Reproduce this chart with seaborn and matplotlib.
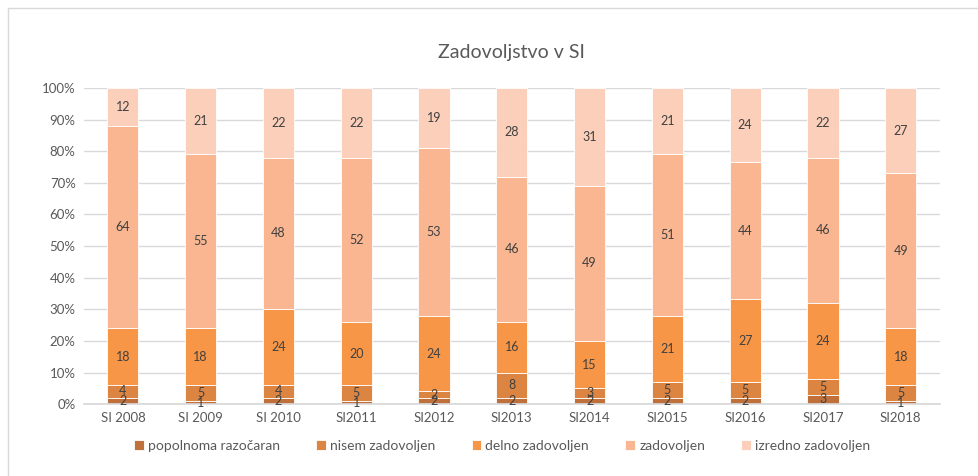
import matplotlib.pyplot as plt
import numpy as np
import pandas as pd
import seaborn as sns
from matplotlib.patches import Rectangle

sns.set_theme(style="white")
plt.rcParams["font.family"] = ["Lato", "DejaVu Sans"]

# === DATA === #
years = ["SI 2008", "SI 2009", "SI 2010", "SI2011", "SI2012", "SI2013",
         "SI2014", "SI2015", "SI2016", "SI2017", "SI2018"]
popolnoma = [2, 1, 2, 1, 2, 2, 2, 2, 2, 3, 1]
nisem = [4, 5, 4, 5, 2, 8, 3, 5, 5, 5, 5]
delno = [18, 18, 24, 20, 24, 16, 15, 21, 27, 24, 18]
zadovoljen = [64, 55, 48, 52, 53, 46, 49, 51, 44, 46, 49]
izredno = [12, 21, 22, 22, 19, 28, 31, 21, 24, 22, 27]

series = {
    "popolnoma razočaran": popolnoma,
    "nisem zadovoljen": nisem,
    "delno zadovoljen": delno,
    "zadovoljen": zadovoljen,
    "izredno zadovoljen": izredno,
}
colors = ["#C0713B", "#DC8542", "#F79646", "#F9B690", "#FBCFBA"]

df = pd.DataFrame(series, index=years)
totals = df.sum(axis=1)
share = df.div(totals, axis=0) * 100

# === PLOT === #
fig = plt.figure(figsize=(9.79, 4.76), dpi=100)
ax = fig.add_axes([0.0858, 0.151, 0.874, 0.664])

bottom = np.zeros(len(years))
for (name, col), color in zip(share.items(), colors):
    sns.barplot(x=years, y=col.values, bottom=bottom, color=color, width=0.4,
                label=name, ax=ax, edgecolor="white", linewidth=0.6, saturation=1)
    for i, (h, raw) in enumerate(zip(col.values, df[name].values)):
        ax.text(i, bottom[i] + h / 2, f"{raw}", ha="center", va="center",
                fontsize=9, color="#404040")
    bottom += col.values

ax.set_xlim(-0.5, len(years) - 0.5)
ax.set_ylim(0, 100)
ax.set_yticks(range(0, 101, 10))
ax.set_yticklabels([f"{v}%" for v in range(0, 101, 10)])
ax.yaxis.grid(True, color="#D9D9D9", linewidth=1)
ax.set_axisbelow(True)
for s in ["top", "right", "left"]:
    ax.spines[s].set_visible(False)
ax.spines["bottom"].set_color("#D9D9D9")
ax.tick_params(axis="both", colors="#595959", labelsize=9.5, length=0, pad=6)
ax.set_title("Zadovoljstvo v SI", fontsize=14, color="#595959", pad=22)

if ax.legend_:
    ax.legend_.remove()
handles, labels = ax.get_legend_handles_labels()
fig.legend(handles, labels, loc="center", bbox_to_anchor=(0.513, 0.063), ncol=5,
           frameon=False, fontsize=10, labelcolor="#595959", handlelength=0.7,
           handleheight=0.7, handletextpad=0.3, columnspacing=2.6)

fig.patches.append(Rectangle((8 / 979, -0.1), 1.2, 1 - 8 / 476 + 0.1,
                             transform=fig.transFigure, fill=False,
                             edgecolor="#D9D9D9", linewidth=1))

fig.savefig("out.png", dpi=100)
